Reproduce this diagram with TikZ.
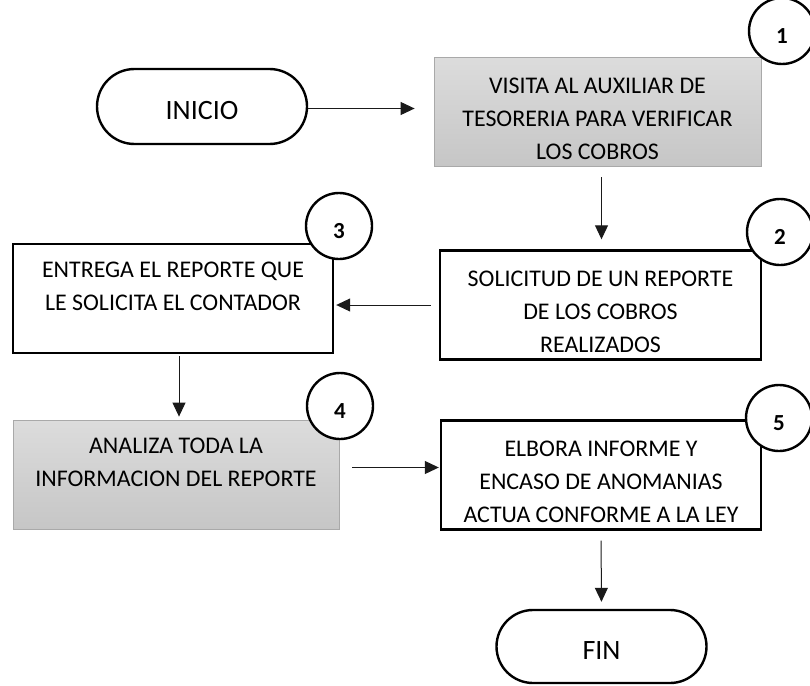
\documentclass[tikz,border=0pt]{standalone}
\usepackage{fontspec}
\setmainfont{Carlito}
\usetikzlibrary{arrows.meta,shapes.misc}
\definecolor{shadetop}{HTML}{DCDCDC}
\definecolor{shadebot}{HTML}{C6C6C6}
\definecolor{shadeline}{HTML}{A9A9A9}
\definecolor{arrowline}{HTML}{1A1A1A}
\newcommand{\firstline}{\rule{0pt}{30pt}}
\newcommand{\blankline}{\rule[-6pt]{0pt}{6pt}}

\begin{document}
\begin{tikzpicture}[x=1pt, y=-1pt, >={Triangle[length=14pt,width=13pt]},
  boxtext/.style={font=\fontsize{23.9}{33}\selectfont, align=center},
  stepbox/.style={boxtext, draw, line width=2.4pt, fill=white,
    minimum height=109pt, inner sep=0pt},
  graybox/.style={boxtext, draw=shadeline, line width=0.8pt,
    top color=shadetop, bottom color=shadebot,
    minimum height=109pt, inner sep=0pt},
  terminal/.style={rounded rectangle, draw, line width=2.4pt,
    font=\fontsize{28}{30}\selectfont, minimum width=210pt, inner sep=0pt,
    text height=26pt, text depth=0.6pt},
  stepnum/.style={circle, draw, line width=2.4pt, fill=white,
    minimum size=66pt, inner sep=0pt, font=\fontsize{23}{24}\selectfont\bfseries,
    text height=26pt, text depth=1pt},
  arr/.style={->, line width=1pt, arrowline}]
  \useasboundingbox (0,0) rectangle (810,685);
  \clip (0,0) rectangle (810,685);
  % Terminals
  \node[terminal, minimum height=75pt] (inicio) at (202,106.5) {INICIO};
  \node[terminal, minimum height=73pt] (fin) at (601.5,646.5) {FIN};
  % Steps
  \node[graybox, minimum width=327pt] (visita) at (597.5,111.5)
    {\firstline VISITA AL AUXILIAR DE\\TESORERIA PARA VERIFICAR\\LOS COBROS};
  \node[stepbox, minimum width=321pt] (solicitud) at (600.5,305)
    {\firstline SOLICITUD DE UN REPORTE\\DE LOS COBROS\\REALIZADOS};
  \node[stepbox, minimum width=320pt] (entrega) at (173,298.5)
    {\firstline ENTREGA EL REPORTE QUE\\LE SOLICITA EL CONTADOR\\\blankline};
  \node[graybox, minimum width=326pt] (analiza) at (176,474.5)
    {\firstline ANALIZA TODA LA\\INFORMACION DEL REPORTE\\\blankline};
  \node[stepbox, minimum width=320pt] (elabora) at (601,475)
    {\firstline ELBORA INFORME Y\\ENCASO DE ANOMANIAS\\ACTUA CONFORME A LA LEY};
  % Step numbers
  \node[stepnum] (n1) at (782,31) {1};
  \node[stepnum] (n2) at (780,232) {2};
  \node[stepnum] (n3) at (339,226) {3};
  \node[stepnum] (n4) at (340,406) {4};
  \node[stepnum] (n5) at (779,418) {5};
  % Arrows
  \draw[arr, shorten >=19pt] ([yshift=-2pt]inicio.east) -- ([yshift=-2pt]inicio.east -| visita.west);
  \draw[arr, shorten <=11pt, shorten >=10pt]
    ([xshift=4pt]visita.south) -- ([xshift=4pt]visita.south |- solicitud.north);
  \draw[arr, shorten <=8pt, shorten >=2pt]
    (solicitud.west) -- (solicitud.west -| entrega.east);
  \draw[arr, shorten <=2pt, shorten >=3pt]
    ([xshift=6pt]entrega.south) -- ([xshift=6pt]entrega.south |- analiza.north);
  \draw[arr, shorten <=13pt, shorten >=1pt]
    ([yshift=7pt]analiza.east) -- ([yshift=7pt]analiza.east -| elabora.west);
  \draw[arr, shorten <=10pt, shorten >=7pt] (elabora.south) -- (fin.north);
\end{tikzpicture}
\end{document}
